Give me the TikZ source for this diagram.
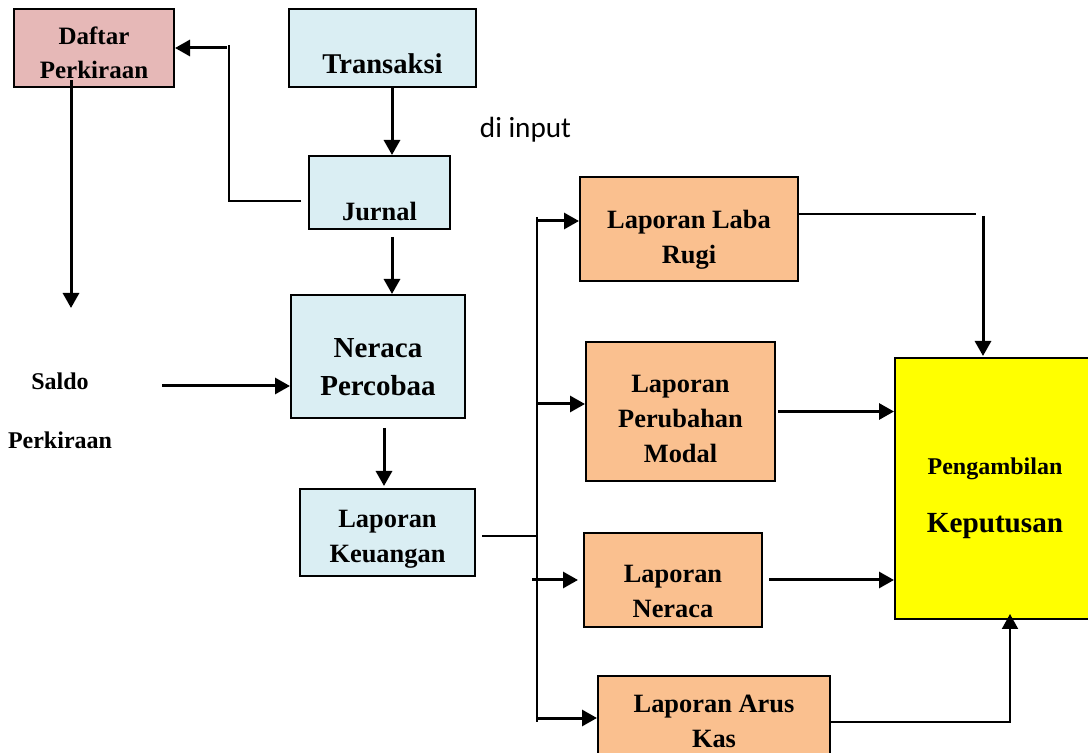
\documentclass[tikz,border=0pt]{standalone}
\usepackage{fontspec}
\setmainfont{Liberation Serif}
\newfontfamily\calibrifont{Carlito}
\usepackage{xcolor}
\usepackage{tikz}
\usetikzlibrary{arrows.meta,positioning}

\definecolor{boxpink}{RGB}{230,184,183}
\definecolor{boxblue}{RGB}{218,238,243}
\definecolor{boxorange}{RGB}{250,192,143}
\definecolor{boxyellow}{RGB}{255,255,0}
\newcommand{\pushdown}[1]{\rule{0pt}{#1}}

\begin{document}
\begin{tikzpicture}[
  x=0.5pt, y=-0.5pt,
  box/.style={rectangle, draw, line width=1pt, inner sep=0pt, align=center,
              font=\bfseries\fontsize{13.2}{17.5}\selectfont},
  pinkbox/.style={box, fill=boxpink},
  bluebox/.style={box, fill=boxblue},
  orangebox/.style={box, fill=boxorange},
  flow/.style={-{Triangle[length=7.5pt,width=8pt]}, line width=1.5pt},
  link/.style={line width=1pt},
  linkarrow/.style={link, -{Triangle[length=7.5pt,width=8pt]}},
]
\useasboundingbox (0,0) rectangle (1088,753);

% Input side
\node[pinkbox, minimum width=80pt, minimum height=39pt,
      font=\bfseries\fontsize{12.5}{17}\selectfont] (daftar) at (94,48)
      {\pushdown{14pt}Daftar\\Perkiraan};
\node[bluebox, minimum width=93.5pt, minimum height=39pt,
      font=\bfseries\fontsize{14.3}{17}\selectfont] (transaksi) at (382.5,48)
      {\pushdown{26pt}Transaksi};
\node[bluebox, minimum width=70.5pt, minimum height=36.5pt] (jurnal) at (379.5,192.5)
      {\pushdown{28pt}Jurnal};
\node[font=\calibrifont\fontsize{14.6}{17}\selectfont, anchor=base] (diinput) at (525.5,138)
      {di input};
\node[font=\bfseries\fontsize{12}{14}\selectfont, align=center] (saldo) at (60,411)
      {Saldo\\[15.5pt]Perkiraan};

% Processing
\node[bluebox, minimum width=87pt, minimum height=61.5pt,
      font=\bfseries\fontsize{14.5}{19}\selectfont] (neraca) at (378,356.5)
      {\pushdown{19.7pt}Neraca\\Percobaa};
\node[bluebox, minimum width=87.5pt, minimum height=43.5pt] (keuangan) at (387.5,532.5)
      {\pushdown{15pt}Laporan\\Keuangan};

% Reports
\node[orangebox, minimum width=109pt, minimum height=52pt] (labarugi) at (689,229)
      {\pushdown{19.5pt}Laporan Laba\\Rugi};
\node[orangebox, minimum width=94.5pt, minimum height=69.5pt] (modal) at (680.5,411.5)
      {\pushdown{16pt}Laporan\\Perubahan\\Modal};
\node[orangebox, minimum width=89pt, minimum height=47pt] (lapneraca) at (673,580)
      {\pushdown{20pt}Laporan\\Neraca};
\node[orangebox, minimum width=116pt, minimum height=42pt] (aruskas) at (714,718)
      {\pushdown{12pt}Laporan Arus\\Kas};

% Decision
\node[box, fill=boxyellow, minimum width=100pt, minimum height=130.5pt] (keputusan) at (995,488.5)
      {\pushdown{18pt}{\fontsize{12}{14}\selectfont Pengambilan}\\[11.5pt]%
       {\fontsize{14.6}{17}\selectfont Keputusan}};

% Turning points
\coordinate (jdTop) at (229,45);
\coordinate (dpStart) at (71,80);
\coordinate (dpEnd) at (71,308);
\coordinate (saldoOut) at (162,386);
\coordinate (busTop) at (537,217);
\coordinate (busBot) at (537,722);
\coordinate (lrTurn) at (976,214);
\coordinate (lrDrop) at (983,216);

% Connections
\draw[flow] ([xshift=4.75pt]transaksi.south) -- ([xshift=6.25pt]jurnal.north);
\draw[link] ([shift={(-3.5pt,-4.25pt)}]jurnal.west) -| (jdTop);
\draw[flow] ([shift={(-1pt,-1.5pt)}]jdTop) -- (daftar.east);
\draw[flow] (dpStart) -- (dpEnd);
\draw[flow] ([shift={(6.25pt,-3.5pt)}]jurnal.south) -- ([xshift=7pt]neraca.north);
\draw[flow] (saldoOut) -- ([yshift=-14.75pt]neraca.west);
\draw[flow] ([shift={(3pt,-4.5pt)}]neraca.south) -- ([shift={(-1.75pt,1pt)}]keuangan.north);
\draw[link] ([shift={(3pt,-1.75pt)}]keuangan.east) -- ++(56,0);

% Distribution to reports
\draw[link] (busTop) -- (busBot);
\draw[flow] ([shift={(-21.5pt,4pt)}]labarugi.west) -- ([yshift=4pt]labarugi.west);
\draw[flow] ([shift={(-23.5pt,3.75pt)}]modal.west) -- ([yshift=3.75pt]modal.west);
\draw[flow] ([xshift=-25.5pt]lapneraca.west) -- ([xshift=-2.5pt]lapneraca.west);
\draw[flow] ([xshift=-30.5pt]aruskas.west) -- (aruskas.west);

% Reports to decision
\draw[link] ([yshift=7.5pt]labarugi.east) -- (lrTurn);
\draw[flow] (lrDrop) -- ([shift={(-6pt,0.5pt)}]keputusan.north);
\draw[flow] ([xshift=1pt]modal.east) -- (modal.east -| keputusan.west);
\draw[flow] ([xshift=3pt]lapneraca.east) -- (lapneraca.east -| keputusan.west);
\draw[linkarrow] ([yshift=-2pt]aruskas.east) -| ([shift={(7.5pt,3pt)}]keputusan.south);

\end{tikzpicture}
\end{document}
